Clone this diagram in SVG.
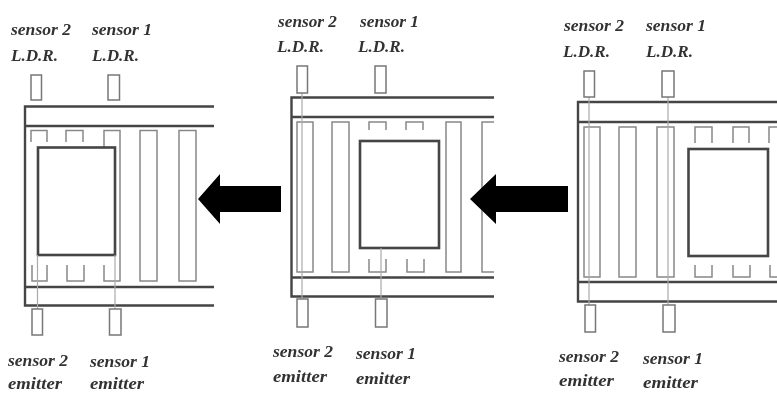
<svg xmlns="http://www.w3.org/2000/svg" width="777" height="393" viewBox="0 0 777 393">
<style>
text{font-family:"Liberation Serif","Times New Roman",serif;font-style:italic;font-weight:bold;font-size:16.500px;fill:#333}
.r{fill:none;stroke:#444;stroke-width:2.4}
.w{fill:none;stroke:#444;stroke-width:2.6}
.s{fill:#fff;stroke:#777;stroke-width:1.5}
.t{fill:none;stroke:#888;stroke-width:1.5}
.l{fill:none;stroke:#aaa;stroke-width:1.2}
</style>
<defs><filter id="b" x="0" y="0" width="777" height="393" filterUnits="userSpaceOnUse" primitiveUnits="userSpaceOnUse"><feGaussianBlur stdDeviation="0.45"/></filter></defs>
<rect width="777" height="393" fill="#fff"/>
<g filter="url(#b)">
<g id="panel-1">
<path class="r" d="M214 106.500H25V305.500H214M25 126H214M25 287H214"/>
<path class="t" d="M31 142V130.500H47V142M66 142V130.500H83V142M104 147V130.500H120V281H104V265M47 265V281H32V265M67 265V281H84V265M140 130.500H157V281H140ZM179 130.500H196V281H179Z"/>
<rect class="w" x="38" y="147.500" width="77" height="107.500" fill="#fff"/>
<path class="l" d="M37.500 255V309M115 255V309"/>
<rect class="s" x="31" y="75" width="10.500" height="25"/><rect class="s" x="108" y="75" width="11.500" height="25"/>
<rect class="s" x="32" y="309" width="10.500" height="26"/><rect class="s" x="109.500" y="309" width="11.500" height="26"/>
<text x="11" y="35" textLength="60" lengthAdjust="spacingAndGlyphs">sensor 2</text><text x="92" y="35" textLength="60" lengthAdjust="spacingAndGlyphs">sensor 1</text>
<text x="11" y="61" textLength="47" lengthAdjust="spacingAndGlyphs">L.D.R.</text><text x="92" y="61" textLength="47" lengthAdjust="spacingAndGlyphs">L.D.R.</text>
<text x="8" y="366" textLength="60" lengthAdjust="spacingAndGlyphs">sensor 2</text><text x="90" y="367" textLength="60" lengthAdjust="spacingAndGlyphs">sensor 1</text>
<text x="8" y="388.500" textLength="54" lengthAdjust="spacingAndGlyphs">emitter</text><text x="90" y="388.500" textLength="54" lengthAdjust="spacingAndGlyphs">emitter</text>
</g>
<g id="panel-2">
<path class="r" d="M494 97.500H291.500V296.500H494M291.500 117H494M291.500 277.500H494"/>
<path class="t" d="M297 122H313V272H297ZM332 122H349V272H332ZM446 122H461V272H446ZM494 122H482V272H494M369 130V122H386V130M406 130V122H423V130M369 259V272H386V259M407 259V272H424V259"/>
<rect class="w" x="360" y="141" width="79" height="107" fill="#fff"/>
<path class="l" d="M302 93V299M381 248V299"/>
<rect class="s" x="297" y="66" width="10.500" height="27"/><rect class="s" x="375" y="66" width="11" height="27"/>
<rect class="s" x="297" y="299" width="11" height="28"/><rect class="s" x="375.500" y="299" width="11.500" height="28"/>
<text x="278" y="27" textLength="59" lengthAdjust="spacingAndGlyphs">sensor 2</text><text x="360" y="27" textLength="59" lengthAdjust="spacingAndGlyphs">sensor 1</text>
<text x="277" y="52" textLength="47" lengthAdjust="spacingAndGlyphs">L.D.R.</text><text x="358" y="52" textLength="47" lengthAdjust="spacingAndGlyphs">L.D.R.</text>
<text x="273" y="357" textLength="60" lengthAdjust="spacingAndGlyphs">sensor 2</text><text x="356" y="359" textLength="60" lengthAdjust="spacingAndGlyphs">sensor 1</text>
<text x="273" y="382" textLength="54" lengthAdjust="spacingAndGlyphs">emitter</text><text x="356" y="384" textLength="54" lengthAdjust="spacingAndGlyphs">emitter</text>
</g>
<g id="panel-3">
<path class="r" d="M777 102H578V301.500H777M578 122H777M578 282H777"/>
<path class="t" d="M584 127H600V277H584ZM619 127H636V277H619ZM657 127H674V277H657ZM695 143V127H712V143M733 143V127H749V143M777 127H769V143M695 265V277H712V265M733 265V277H750V265M770 265V277H777"/>
<rect class="w" x="688.500" y="149" width="79.500" height="107" fill="#fff"/>
<path class="l" d="M589 97V305M668 97V305"/>
<rect class="s" x="584" y="71" width="10.500" height="26"/><rect class="s" x="662" y="71" width="12" height="26"/>
<rect class="s" x="585" y="305" width="10.500" height="27"/><rect class="s" x="663" y="305" width="12" height="27"/>
<text x="564" y="31" textLength="60" lengthAdjust="spacingAndGlyphs">sensor 2</text><text x="646" y="31" textLength="60" lengthAdjust="spacingAndGlyphs">sensor 1</text>
<text x="563" y="57" textLength="47" lengthAdjust="spacingAndGlyphs">L.D.R.</text><text x="646" y="57" textLength="47" lengthAdjust="spacingAndGlyphs">L.D.R.</text>
<text x="559" y="362" textLength="60" lengthAdjust="spacingAndGlyphs">sensor 2</text><text x="643" y="364" textLength="60" lengthAdjust="spacingAndGlyphs">sensor 1</text>
<text x="559" y="386" textLength="55" lengthAdjust="spacingAndGlyphs">emitter</text><text x="643" y="388" textLength="55" lengthAdjust="spacingAndGlyphs">emitter</text>
</g>
<g id="connectors">
<polygon points="198,199 220,174 220,186 281,186 281,212 220,212 220,224"/>
<polygon points="470,199 496,174 496,186 568,186 568,212 496,212 496,224"/>
</g>
</g>
</svg>
